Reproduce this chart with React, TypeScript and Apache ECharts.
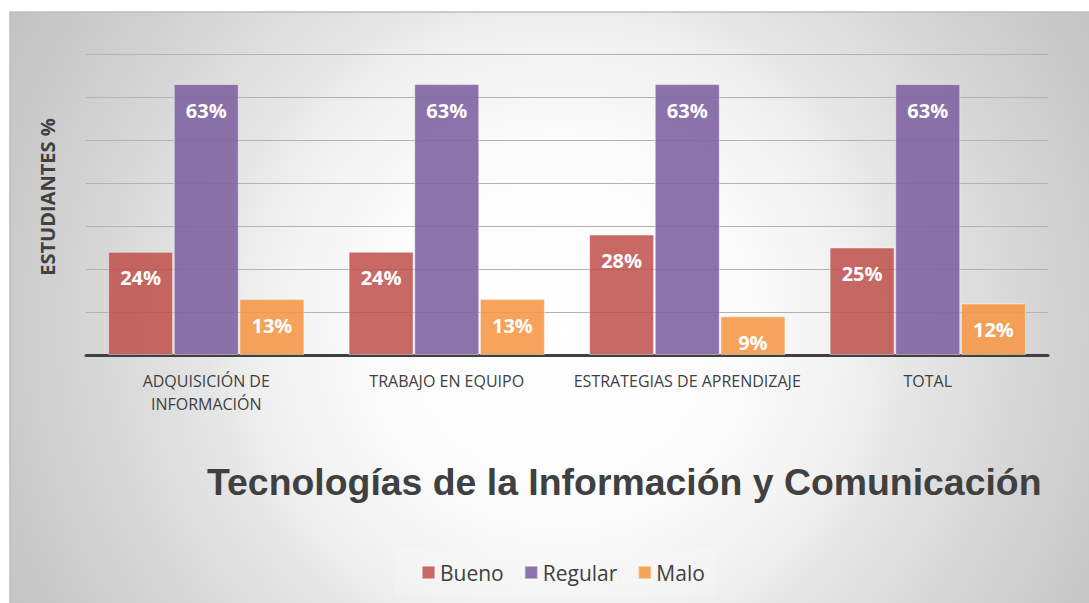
import React, { useEffect, useRef } from "react";
import * as echarts from "echarts";

const categories = ["ADQUISICIÓN DE\nINFORMACIÓN", "TRABAJO EN EQUIPO", "ESTRATEGIAS DE APRENDIZAJE", "TOTAL"];
const bueno = [24, 24, 28, 25];
const regular = [63, 63, 63, 63];
const malo = [13, 13, 9, 12];
const seriesNames = ["Bueno", "Regular", "Malo"];
const title = "Tecnologías de la Información y Comunicación";
const yName = "ESTUDIANTES %";

const FONT = "'Open Sans', 'Noto Sans', sans-serif";

export default function App() {
  const ref = useRef<HTMLDivElement>(null);
  useEffect(() => {
    document.body.style.margin = "0";
    const chart = echarts.init(ref.current!, null, { renderer: "svg" });
    const label = {
      show: true,
      position: "insideTop",
      distance: 16,
      color: "#ffffff",
      fontWeight: "bold",
      fontSize: 20,
      fontFamily: FONT,
      formatter: "{c}%",
    };
    const mk = (name: string, data: number[], color: string) => ({
      name,
      type: "bar",
      data,
      barWidth: 65,
      barGap: "1%",
      itemStyle: { color, borderColor: "rgba(255,255,255,0.45)", borderWidth: 1 },
      label,
    });
    chart.setOption({
      animation: false,
      graphic: [
        {
          type: "rect",
          z: -10,
          shape: { x: 10, y: 12, width: 1080, height: 592 },
          style: {
            fill: {
              type: "radial",
              global: true,
              x: 560,
              y: 330,
              r: 640,
              colorStops: [
                { offset: 0, color: "#ffffff" },
                { offset: 0.3, color: "#fbfbfb" },
                { offset: 0.47, color: "#f0f0f0" },
                { offset: 0.55, color: "#e6e6e6" },
                { offset: 0.84, color: "#cdcdcd" },
                { offset: 1, color: "#c2c2c2" },
              ],
            },
            stroke: "#bdbdbd",
            lineWidth: 1.5,
          },
        },
        {
          type: "rect",
          z: -5,
          shape: { x: 395, y: 549, width: 320, height: 46 },
          style: { fill: "rgba(255,255,255,0.18)" },
        },
        {
          type: "text",
          left: 207,
          top: 463,
          style: {
            text: title,
            font: "bold 37.4px 'Liberation Sans', Arial, sans-serif",
            fill: "#404040",
          },
        },
        {
          type: "text",
          x: 47,
          y: 197,
          rotation: Math.PI / 2,
          style: {
            text: yName,
            font: "bold 20px 'Open Sans', 'Noto Sans', sans-serif",
            fill: "#404040",
            align: "center",
            verticalAlign: "middle",
          },
        },
      ],
      legend: {
        data: seriesNames,
        left: 416,
        top: 557,
        itemWidth: 13,
        itemHeight: 13,
        itemGap: 20,
        icon: "rect",
        textStyle: { fontSize: 21, color: "#404040", fontFamily: FONT },
      },
      grid: { left: 86, right: 41, top: 54, bottom: 248 },
      xAxis: {
        type: "category",
        data: categories,
        axisTick: { show: false },
        axisLine: { lineStyle: { color: "#404040", width: 3 } },
        axisLabel: {
          color: "#404040",
          fontSize: 16,
          fontFamily: FONT,
          margin: 14,
          lineHeight: 23,
          interval: 0,
        },
      },
      yAxis: {
        type: "value",
        min: 0,
        max: 70,
        interval: 10,
        axisLabel: { show: false },
        axisLine: { show: false },
        axisTick: { show: false },
        splitLine: { lineStyle: { color: "#b3b3b3", width: 1 } },
      },
      series: [
        mk(seriesNames[0], bueno, "rgba(192,80,77,0.86)"),
        mk(seriesNames[1], regular, "rgba(128,100,162,0.9)"),
        mk(seriesNames[2], malo, "rgba(247,150,70,0.88)"),
      ],
    });
    return () => chart.dispose();
  }, []);
  return <div ref={ref} style={{ position: "absolute", left: 0, top: 0, width: 1089, height: 603 }} />;
}
